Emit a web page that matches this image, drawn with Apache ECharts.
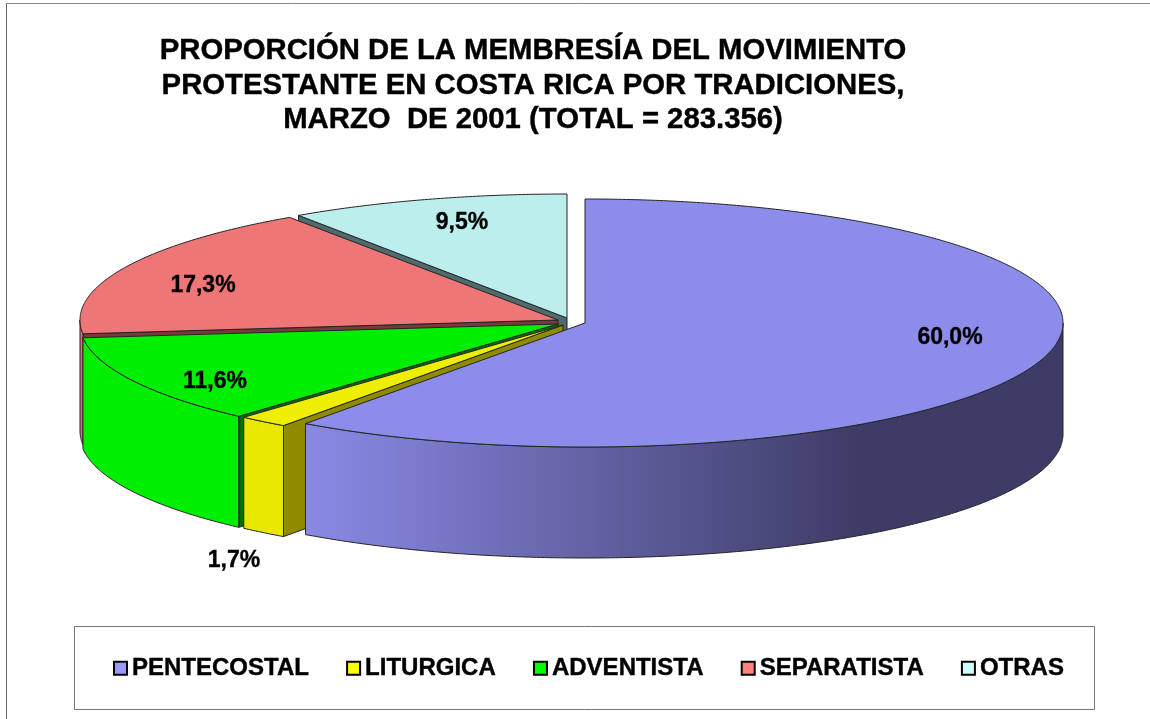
<!DOCTYPE html>
<html>
<head>
<meta charset="utf-8">
<style>html,body{margin:0;padding:0;background:#fff}#c{width:1150px;height:719px}</style>
<script src="https://cdn.jsdelivr.net/npm/echarts@6/dist/echarts.min.js"></script>
</head>
<body>
<div id="c"></div>
<script>
// ---- data ----
const categories = ['PENTECOSTAL', 'LITURGICA', 'ADVENTISTA', 'SEPARATISTA', 'OTRAS'];
const shares = [60.0, 1.7, 11.6, 17.3, 9.5];
const titleLines = [
  'PROPORCIÓN DE LA MEMBRESÍA DEL MOVIMIENTO',
  'PROTESTANTE EN COSTA RICA POR TRADICIONES,',
  'MARZO  DE 2001 (TOTAL = 283.356)'
];

// ---- layout and styles ----
const RX = 478, RY = 124, DEPTH = 111;
const centers = [[585, 323], [563, 325], [558, 324], [558, 320], [567, 318]];
const labelAt = [[950, 338], [234, 561], [215, 382], [203, 286], [462, 223]];
const topColors = ['#8c8ceb', '#eeee00', '#00ee00', '#ef7676', '#bdeeee'];
const sideColors = [null, '#e8e800', '#00ee00', '#df6e6e', '#b0dddd'];
const cutColors = [null, '#8f8a00', '#007000', '#783b3b', '#4f6b6b'];
const legendColors = ['#9999ff', '#ffff00', '#00ff00', '#ff8080', '#ccffff'];
const EDGE = '#242424';
const FONT = '"Liberation Sans", Arial, sans-serif';

const total = shares.reduce((a, b) => a + b, 0);
function angles(i) {
  let s = 0;
  for (let k = 0; k < i; k++) s += shares[k];
  return [s / total * 360, (s + shares[i]) / total * 360];
}
function rim(c, deg, dy) {
  const r = deg * Math.PI / 180;
  return [c[0] + RX * Math.sin(r), c[1] - RY * Math.cos(r) + (dy || 0)];
}
function arc(c, a, b, dy) {
  const n = Math.max(2, Math.ceil(Math.abs(b - a) * 2)), out = [];
  for (let k = 0; k <= n; k++) out.push(rim(c, a + (b - a) * k / n, dy));
  return out;
}
function poly(points, fill) {
  return { type: 'polygon', shape: { points }, style: { fill, stroke: EDGE, lineWidth: 1, lineJoin: 'round' } };
}

function makeRender(i) {
  return function () {
    const c = centers[i], [a0, a1] = angles(i), kids = [];
    const apex = [c[0], c[1]];
    // wall of the cut at the start of the slice, seen through the gap to the previous slice
    if (cutColors[i]) {
      const p = rim(c, a0);
      kids.push(poly([apex, p, [p[0], p[1] + DEPTH], [apex[0], apex[1] + DEPTH]], cutColors[i]));
    }
    // outer wall: only the front half of the rim (90..270 degrees) faces the viewer
    const f0 = Math.max(a0, 90), f1 = Math.min(a1, 270);
    if (f1 > f0) {
      const fill = i === 0
        ? new echarts.graphic.LinearGradient(0, 0, 1, 0, [
            { offset: 0, color: '#8a8ae6' },
            { offset: 0.73, color: '#3d3c66' },
            { offset: 1, color: '#3d3c66' }
          ])
        : sideColors[i];
      kids.push(poly(arc(c, f0, f1, 0).concat(arc(c, f1, f0, DEPTH)), fill));
    }
    // top face
    kids.push(poly([apex].concat(arc(c, a0, a1, 0)), topColors[i]));
    // value label
    kids.push({
      type: 'text', z2: 100,
      style: {
        text: shares[i].toFixed(1).replace('.', ',') + '%',
        x: labelAt[i][0], y: labelAt[i][1], align: 'center', verticalAlign: 'middle',
        font: 'bold 23px ' + FONT, fill: '#000', stroke: '#000', lineWidth: 0.35
      }
    });
    return { type: 'group', children: kids };
  };
}

// painted back to front so that nearer slices cover the farther ones
const paintOrder = [4, 3, 2, 1, 0];
const series = paintOrder.map(i => ({
  type: 'custom',
  name: categories[i],
  coordinateSystem: 'none',
  silent: true,
  animation: false,
  clip: false,
  itemStyle: { color: legendColors[i] },
  data: [shares[i]],
  renderItem: makeRender(i)
}));

const chart = echarts.init(document.getElementById('c'), null, { renderer: 'canvas' });
chart.setOption({
  animation: false,
  backgroundColor: '#fff',
  title: {
    text: titleLines.join('\n'),
    left: 528, top: 29, textAlign: 'center',
    textStyle: {
      fontFamily: FONT, fontWeight: 'bold', fontSize: 29.3, lineHeight: 34.3, color: '#000',
      textBorderColor: '#000', textBorderWidth: 0.4
    }
  },
  legend: {
    data: categories.map((name, i) => ({
      name, icon: 'rect',
      itemStyle: { color: legendColors[i], borderColor: '#000', borderWidth: 2 }
    })),
    left: 113, top: 656, padding: 0,
    itemWidth: 13, itemHeight: 13, itemGap: 37,
    selectedMode: false,
    textStyle: {
      fontFamily: FONT, fontWeight: 'bold', fontSize: 24, color: '#000', padding: [0, 0, 0, 0],
      textBorderColor: '#000', textBorderWidth: 0.4
    }
  },
  graphic: [
    { type: 'line', silent: true, shape: { x1: 6.5, y1: 3.5, x2: 1150, y2: 3.5 }, style: { stroke: '#8a8a8a', lineWidth: 1 } },
    { type: 'line', silent: true, shape: { x1: 6.5, y1: 3.5, x2: 6.5, y2: 719 }, style: { stroke: '#666', lineWidth: 1 } },
    { type: 'rect', silent: true, shape: { x: 74.5, y: 626.5, width: 1020, height: 83 }, style: { fill: 'none', stroke: '#777', lineWidth: 1 } }
  ],
  series
});
</script>
</body>
</html>
